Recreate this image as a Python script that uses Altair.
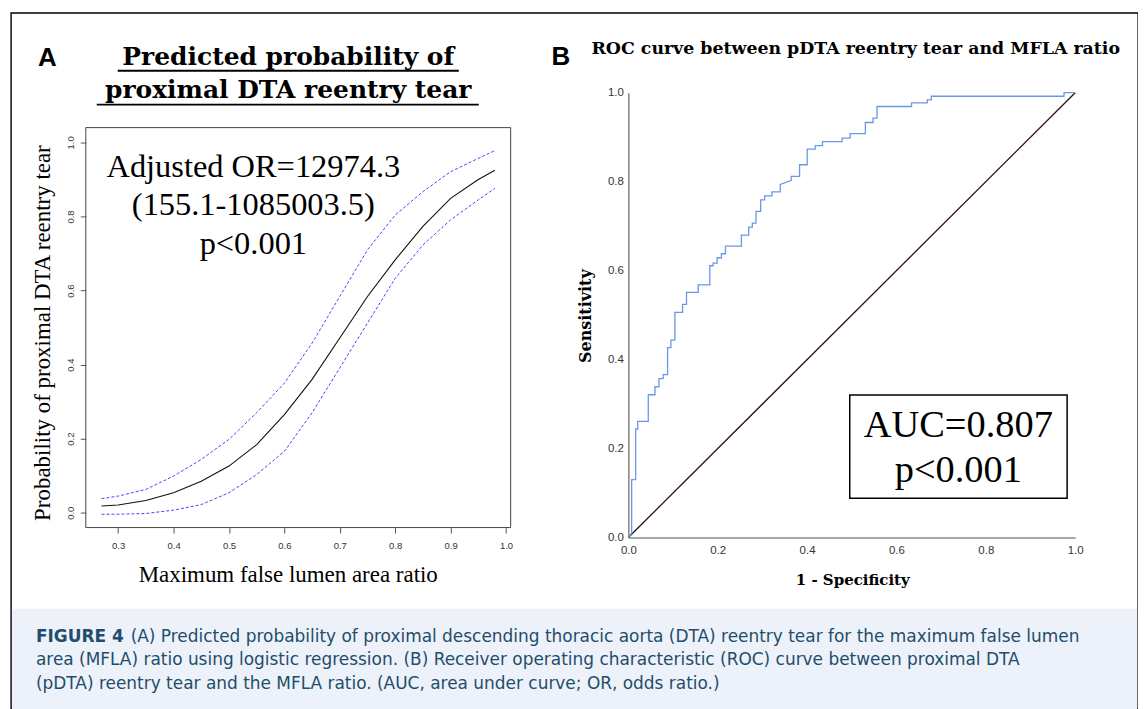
import altair as alt
import pandas as pd

W, H = 1130, 698

# ---------------- Panel A: predicted probability (logistic regression) ----------------
A_X = [0.27, 0.30, 0.35, 0.40, 0.45, 0.50, 0.55, 0.60, 0.65, 0.70, 0.75, 0.80, 0.85, 0.90, 0.95, 0.98]
A_FIT = [0.018, 0.021, 0.033, 0.054, 0.085, 0.126, 0.184, 0.265, 0.360, 0.472, 0.584, 0.683, 0.773, 0.849, 0.900, 0.925]
A_UPPER = [0.038, 0.045, 0.063, 0.099, 0.144, 0.198, 0.270, 0.350, 0.458, 0.584, 0.710, 0.804, 0.867, 0.921, 0.957, 0.978]
A_LOWER = [-0.004, -0.004, -0.002, 0.007, 0.022, 0.054, 0.103, 0.166, 0.270, 0.391, 0.512, 0.633, 0.723, 0.791, 0.845, 0.876]
A_XDOM = [0.2416, 1.0084]
A_YDOM = [-0.04, 1.04]
A_XTICKS = [0.3, 0.4, 0.5, 0.6, 0.7, 0.8, 0.9, 1.0]
A_YTICKS = [0.0, 0.2, 0.4, 0.6, 0.8, 1.0]
A_TITLE = ["Predicted probability of", "proximal DTA reentry tear"]
A_XLABEL = "Maximum false lumen area ratio"
A_YLABEL = "Probability of proximal DTA reentry tear"
A_NOTE = ["Adjusted OR=12974.3", "(155.1-1085003.5)", "p<0.001"]
A_NOTE_X = [0.544, 0.544, 0.544]
A_NOTE_Y = [0.906, 0.803, 0.700]

# ---------------- Panel B: ROC curve ----------------
ROC_FPR = [0.0, 0.0074, 0.0074, 0.0164, 0.0164, 0.0210, 0.0210, 0.0446, 0.0446, 0.0595, 0.0595,
           0.0685, 0.0685, 0.0780, 0.0780, 0.0878, 0.0878, 0.0952, 0.0952, 0.1042, 0.1042,
           0.1213, 0.1213, 0.1302, 0.1302, 0.1563, 0.1563, 0.1823, 0.1823, 0.1897, 0.1897,
           0.1987, 0.1987, 0.2083, 0.2083, 0.2173, 0.2173, 0.2530, 0.2530, 0.2693, 0.2693,
           0.2775, 0.2775, 0.2857, 0.2857, 0.2961, 0.2961, 0.3051, 0.3051, 0.3214, 0.3214,
           0.3400, 0.3400, 0.3646, 0.3646, 0.3832, 0.3832, 0.4003, 0.4003, 0.4182, 0.4182,
           0.4345, 0.4345, 0.4784, 0.4784, 0.4963, 0.4963, 0.5305, 0.5305, 0.5476, 0.5476,
           0.5565, 0.5565, 0.6339, 0.6339, 0.6690, 0.6690, 0.6780, 0.6780, 0.9750, 0.9750, 1.0]
ROC_TPR = [0.0, 0.010, 0.130, 0.130, 0.244, 0.244, 0.261, 0.261, 0.321, 0.321, 0.339,
           0.339, 0.357, 0.357, 0.366, 0.366, 0.427, 0.427, 0.444, 0.444, 0.506,
           0.506, 0.524, 0.524, 0.551, 0.551, 0.568, 0.568, 0.611, 0.611, 0.617,
           0.617, 0.629, 0.629, 0.638, 0.638, 0.655, 0.655, 0.680, 0.680, 0.698,
           0.698, 0.707, 0.707, 0.733, 0.733, 0.759, 0.759, 0.768, 0.768, 0.777,
           0.777, 0.794, 0.803, 0.812, 0.812, 0.838, 0.838, 0.873, 0.873, 0.881,
           0.881, 0.890, 0.890, 0.898, 0.898, 0.908, 0.908, 0.933, 0.933, 0.943,
           0.943, 0.969, 0.969, 0.977, 0.977, 0.984, 0.984, 0.992, 0.992, 1.000, 1.0]
DIAG = [0.0, 1.0]
B_TICKS = [0.0, 0.2, 0.4, 0.6, 0.8, 1.0]
B_TITLE = "ROC curve between pDTA reentry tear and MFLA ratio"
B_XLABEL = "1 - Specificity"
B_YLABEL = "Sensitivity"
B_NOTE = ["AUC=0.807", "p<0.001"]
B_NOTE_X = [0.7385, 0.7385]
B_NOTE_Y = [0.227, 0.124]
B_BOX_X = [0.4955, 0.982]
B_BOX_Y = [0.0883, 0.3206]

CAPTION = [
    "FIGURE 4",
    "(A) Predicted probability of proximal descending thoracic aorta (DTA) reentry tear for the maximum false lumen",
    "area (MFLA) ratio using logistic regression. (B) Receiver operating characteristic (ROC) curve between proximal DTA",
    "(pDTA) reentry tear and the MFLA ratio. (AUC, area under curve; OR, odds ratio.)",
]

SERIF = "Liberation Serif"
HEAD = "DejaVu Serif"
SANS = "Liberation Sans"
CAP_FONT = "DejaVu Sans"
CAP_COLOR = "#1f4d6b"

one = pd.DataFrame({"t": [""]})


def text(s, x, y, size, font, weight="normal", color="#000000", align="center",
         baseline="alphabetic", angle=0):
    return alt.Chart(pd.DataFrame({"t": [s]})).mark_text(
        font=font, fontSize=size, fontWeight=weight, color=color, align=align,
        baseline=baseline, angle=angle
    ).encode(x=alt.value(x), y=alt.value(y), text="t:N")


def uline(x1, x2, y):
    return alt.Chart(one).mark_rule(color="#000000", strokeWidth=1.8).encode(
        x=alt.value(x1), x2=alt.value(x2), y=alt.value(y))


# ---------- Panel A ----------
xA = alt.Scale(domain=A_XDOM, range=[75, 501], nice=False, zero=False)
yA = alt.Scale(domain=A_YDOM, range=[516, 115], nice=False, zero=False)
axAx = alt.Axis(orient="bottom", offset=-(H - 516), values=A_XTICKS, format=".1f", domain=False,
                ticks=True, tickSize=5.5, tickColor="#555555", tickWidth=1, grid=False, title=None,
                labelFont=SANS, labelFontSize=9.5, labelColor="#333333", labelPadding=8,
                labelFlush=False, labelOverlap=False)
axAy = alt.Axis(orient="left", offset=-75, values=A_YTICKS, format=".1f", domain=False,
                ticks=True, tickSize=5.5, tickColor="#555555", tickWidth=1, grid=False, title=None,
                labelFont=SANS, labelFontSize=9.5, labelColor="#333333", labelPadding=5,
                labelAngle=270, labelAlign="center", labelBaseline="bottom",
                labelFlush=False, labelOverlap=False)

dfA = pd.DataFrame({"x": A_X, "fit": A_FIT, "upper": A_UPPER, "lower": A_LOWER})
baseA = alt.Chart(dfA)
boxA = alt.Chart(pd.DataFrame({"x": [A_XDOM[0]], "x2": [A_XDOM[1]],
                               "y": [A_YDOM[0]], "y2": [A_YDOM[1]]})).mark_rect(
    fillOpacity=0, stroke="#444444", strokeWidth=1).encode(
    x=alt.X("x:Q", scale=xA, axis=axAx), x2="x2:Q",
    y=alt.Y("y:Q", scale=yA, axis=axAy), y2="y2:Q")
upA = baseA.mark_line(color="#4646ff", strokeDash=[3, 2], strokeWidth=1).encode(
    x=alt.X("x:Q", scale=xA, axis=axAx), y=alt.Y("upper:Q", scale=yA, axis=axAy))
loA = baseA.mark_line(color="#4646ff", strokeDash=[3, 2], strokeWidth=1).encode(
    x=alt.X("x:Q", scale=xA, axis=axAx), y=alt.Y("lower:Q", scale=yA, axis=axAy))
fitA = baseA.mark_line(color="#111111", strokeWidth=1.1).encode(
    x=alt.X("x:Q", scale=xA, axis=axAx), y=alt.Y("fit:Q", scale=yA, axis=axAy))
noteA = alt.Chart(pd.DataFrame({"x": A_NOTE_X, "y": A_NOTE_Y, "t": A_NOTE})).mark_text(
    font=SERIF, fontSize=32.5, color="#000000", align="center", baseline="alphabetic").encode(
    x=alt.X("x:Q", scale=xA, axis=axAx), y=alt.Y("y:Q", scale=yA, axis=axAy), text="t:N")
panelA = alt.layer(boxA, upA, loA, fitA, noteA)

# ---------- Panel B ----------
xB = alt.Scale(domain=[0, 1], range=[619, 1067], nice=False, zero=False)
yB = alt.Scale(domain=[0, 1], range=[526, 80], nice=False, zero=False)
axBx = alt.Axis(orient="bottom", offset=-(H - 526), values=B_TICKS, format=".1f", domain=True,
                domainColor="#8a8a8a", domainWidth=1.6, ticks=False, tickSize=0, grid=False, title=None,
                labelFont=SANS, labelFontSize=11.5, labelColor="#333333", labelPadding=7,
                labelFlush=False, labelOverlap=False)
axBy = alt.Axis(orient="left", offset=-619, values=B_TICKS, format=".1f", domain=True,
                domainColor="#8a8a8a", domainWidth=1.6, ticks=False, tickSize=0, grid=False, title=None,
                labelFont=SANS, labelFontSize=11.5, labelColor="#333333", labelPadding=5,
                labelFlush=False, labelOverlap=False)

dfROC = pd.DataFrame({"fpr": ROC_FPR, "tpr": ROC_TPR, "i": list(range(len(ROC_FPR)))})
dfDiag = pd.DataFrame({"fpr": DIAG, "tpr": DIAG})
diagB = alt.Chart(dfDiag).mark_line(color="#2a1212", strokeWidth=1.3).encode(
    x=alt.X("fpr:Q", scale=xB, axis=axBx), y=alt.Y("tpr:Q", scale=yB, axis=axBy))
rocB = alt.Chart(dfROC).mark_line(color="#6a98e8", strokeWidth=1.3).encode(
    x=alt.X("fpr:Q", scale=xB, axis=axBx), y=alt.Y("tpr:Q", scale=yB, axis=axBy), order="i:Q")
boxB = alt.Chart(pd.DataFrame({"x": [B_BOX_X[0]], "x2": [B_BOX_X[1]],
                               "y": [B_BOX_Y[0]], "y2": [B_BOX_Y[1]]})).mark_rect(
    fill="#ffffff", stroke="#000000", strokeWidth=1.5).encode(
    x=alt.X("x:Q", scale=xB, axis=axBx), x2="x2:Q",
    y=alt.Y("y:Q", scale=yB, axis=axBy), y2="y2:Q")
noteB = alt.Chart(pd.DataFrame({"x": B_NOTE_X, "y": B_NOTE_Y, "t": B_NOTE})).mark_text(
    font=SERIF, fontSize=38.5, color="#000000", align="center", baseline="alphabetic").encode(
    x=alt.X("x:Q", scale=xB, axis=axBx), y=alt.Y("y:Q", scale=yB, axis=axBy), text="t:N")
panelB = alt.layer(diagB, rocB, boxB, noteB)

# ---------- decorations / titles / caption ----------
capBg = alt.Chart(one).mark_rect(color="#edf2fa").encode(
    x=alt.value(1), x2=alt.value(W - 1), y=alt.value(597.5), y2=alt.value(H))

deco = [
    capBg,
    text("A", 27, 53, 26, SANS, weight="bold", align="left"),
    text("B", 542, 52, 26, SANS, weight="bold", align="left"),
    text(A_TITLE[0], 278, 52, 25, HEAD, weight="bold"),
    text(A_TITLE[1], 278, 85, 25, HEAD, weight="bold"),
    uline(107, 449, 58),
    uline(86, 469, 92),
    text(A_YLABEL, 32.4, 321, 23, SERIF, baseline="middle", angle=270),
    text(A_XLABEL, 278, 564, 23, SERIF, baseline="middle"),
    text(B_TITLE, 582, 41, 17.4, HEAD, weight="bold", align="left"),
    text(B_YLABEL, 577, 304, 16, HEAD, weight="bold", baseline="middle", angle=270),
    text(B_XLABEL, 844, 569, 15, HEAD, weight="bold", baseline="middle"),
    text(CAPTION[0], 25, 625.5, 17, CAP_FONT, weight="bold", color=CAP_COLOR,
         align="left", baseline="middle"),
    text(CAPTION[1], 120, 625.5, 17, CAP_FONT, color=CAP_COLOR, align="left", baseline="middle"),
    text(CAPTION[2], 25, 649, 17, CAP_FONT, color=CAP_COLOR, align="left", baseline="middle"),
    text(CAPTION[3], 25, 672.5, 17, CAP_FONT, color=CAP_COLOR, align="left", baseline="middle"),
]

chart = alt.layer(*deco, panelA, panelB).resolve_scale(
    x="independent", y="independent"
).properties(
    width=W, height=H, autosize=alt.AutoSizeParams(type="none"),
    padding={"left": 3, "top": 4, "right": 0, "bottom": 0},
    background="#ffffff",
).configure_view(stroke="#000000", strokeWidth=1.4)

chart.save("out.html", embed_options={"renderer": "svg", "actions": False})
